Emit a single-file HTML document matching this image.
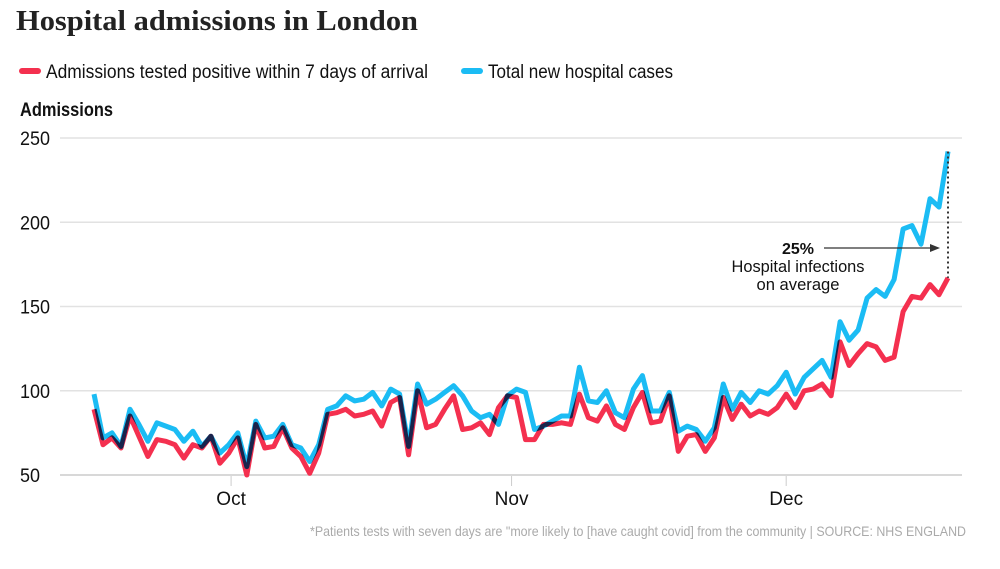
<!DOCTYPE html>
<html><head><meta charset="utf-8"><style>
body{margin:0;background:#fff;width:1000px;height:564px;overflow:hidden;font-family:"Liberation Sans",sans-serif}
svg text{font-family:"Liberation Sans",sans-serif}
</style></head><body>
<svg id="c" width="1000" height="564">
<text x="16" y="30" font-size="29" font-weight="bold" fill="#222" textLength="402" lengthAdjust="spacingAndGlyphs" style="font-family:'Liberation Serif',serif">Hospital admissions in London</text>
<g>
<line x1="22" y1="71" x2="38" y2="71" stroke="#f4304f" stroke-width="6" stroke-linecap="round"/>
<text x="46" y="78" font-size="19" fill="#111" textLength="382" lengthAdjust="spacingAndGlyphs">Admissions tested positive within 7 days of arrival</text>
<line x1="464" y1="71" x2="480" y2="71" stroke="#1bbcf4" stroke-width="6" stroke-linecap="round"/>
<text x="488" y="78" font-size="19" fill="#111" textLength="185" lengthAdjust="spacingAndGlyphs">Total new hospital cases</text>
</g>
<text x="20" y="116" font-size="19" font-weight="bold" fill="#111" textLength="93" lengthAdjust="spacingAndGlyphs">Admissions</text>
<g id="grid"></g><g id="lines" style="isolation:isolate"></g>
<g>
<text x="798" y="254" font-size="16" font-weight="bold" text-anchor="middle" fill="#111">25%</text>
<text x="798" y="272" font-size="17" text-anchor="middle" fill="#111" textLength="133" lengthAdjust="spacingAndGlyphs">Hospital infections</text>
<text x="798" y="290" font-size="17" text-anchor="middle" fill="#111" textLength="83" lengthAdjust="spacingAndGlyphs">on average</text>
<line x1="824" y1="248" x2="932" y2="248" stroke="#333" stroke-width="1.2"/>
<polygon points="940,248 930,244 930,252" fill="#333"/>
</g>
<text x="966" y="536" font-size="14" fill="#aaa" text-anchor="end" textLength="656" lengthAdjust="spacingAndGlyphs">*Patients tests with seven days are "more likely to [have caught covid] from the community | SOURCE: NHS ENGLAND</text>
</svg>
<script>
const yTicks=[50,100,150,200,250];
const xTickLabels=["Oct","Nov","Dec"];
const xTickIndex=[15.25,46.45,77];
const totalCases=[98,72,75,67,89,80,70,81,79,77,70,76,67,73,63,68,75,55,82,72,73,80,68,66,58,68,89,91,97,94,95,99,91,101,98,67,104,92,95,99,103,97,88,84,86,80,97,101,99,77,79,82,85,85,114,94,93,100,87,84,101,109,88,88,99,76,79,77,70,78,104,89,99,93,100,98,103,111,98,108,113,118,108,141,130,136,155,160,156,166,196,198,187,214,209,242];
const testedPositive=[89,68,72,66,85,73,61,71,70,68,60,68,66,73,57,63,72,50,80,66,67,78,66,61,51,63,86,87,89,85,86,88,79,93,96,62,100,78,80,89,97,77,78,81,74,90,97,96,71,71,80,80,81,80,98,84,82,91,80,77,90,99,81,82,97,64,73,74,64,72,96,83,92,85,88,86,90,98,90,100,101,104,97,129,115,122,128,126,118,120,147,156,155,163,157,167];
const NS='http://www.w3.org/2000/svg';
const n=totalCases.length;
const x=i=>94+(948-94)*i/(n-1);
const y=v=>475-(v-50)*(475-138)/200;
function mk(t,a,p){const e=document.createElementNS(NS,t);for(const k in a)e.setAttribute(k,a[k]);p.appendChild(e);return e;}
const grid=document.getElementById('grid'),lines=document.getElementById('lines');
yTicks.forEach(v=>{
 const l=mk('line',{x1:60,x2:962,y1:y(v),y2:y(v),stroke:v===50?'#ccc':'#e2e2e2','stroke-width':1.5},grid);
 
 
 const t=mk('text',{x:20,y:y(v)+7,'font-size':19,fill:'#111',textLength:30,lengthAdjust:'spacingAndGlyphs'},grid);t.textContent=v;
 if(v===50){t.setAttribute('textLength',20);}
 
 
});
xTickLabels.forEach((s,k)=>{
 const xx=x(xTickIndex[k]);
 const l=mk('line',{x1:xx,x2:xx,y1:476,y2:486,stroke:'#ccc','stroke-width':1},grid);
 
 
 const t=mk('text',{x:xx,y:505,'font-size':19,fill:'#111','text-anchor':'middle'},grid);t.textContent=s;
 
 
});
const pts=a=>a.map((v,i)=>x(i).toFixed(1)+','+y(v).toFixed(1)).join(' ');
const b=mk('polyline',{points:pts(totalCases),fill:'none',stroke:'#1bbcf4','stroke-width':5,'stroke-linejoin':'round'},lines);


const r=mk('polyline',{points:pts(testedPositive),fill:'none',stroke:'#f4304f','stroke-width':5,'stroke-linejoin':'round',style:'mix-blend-mode:multiply'},lines);


const d=mk('line',{x1:x(n-1),x2:x(n-1),y1:y(totalCases[n-1]),y2:y(testedPositive[n-1]),stroke:'#333','stroke-width':2,'stroke-dasharray':'2,3'},lines);


</script>
</body></html>
